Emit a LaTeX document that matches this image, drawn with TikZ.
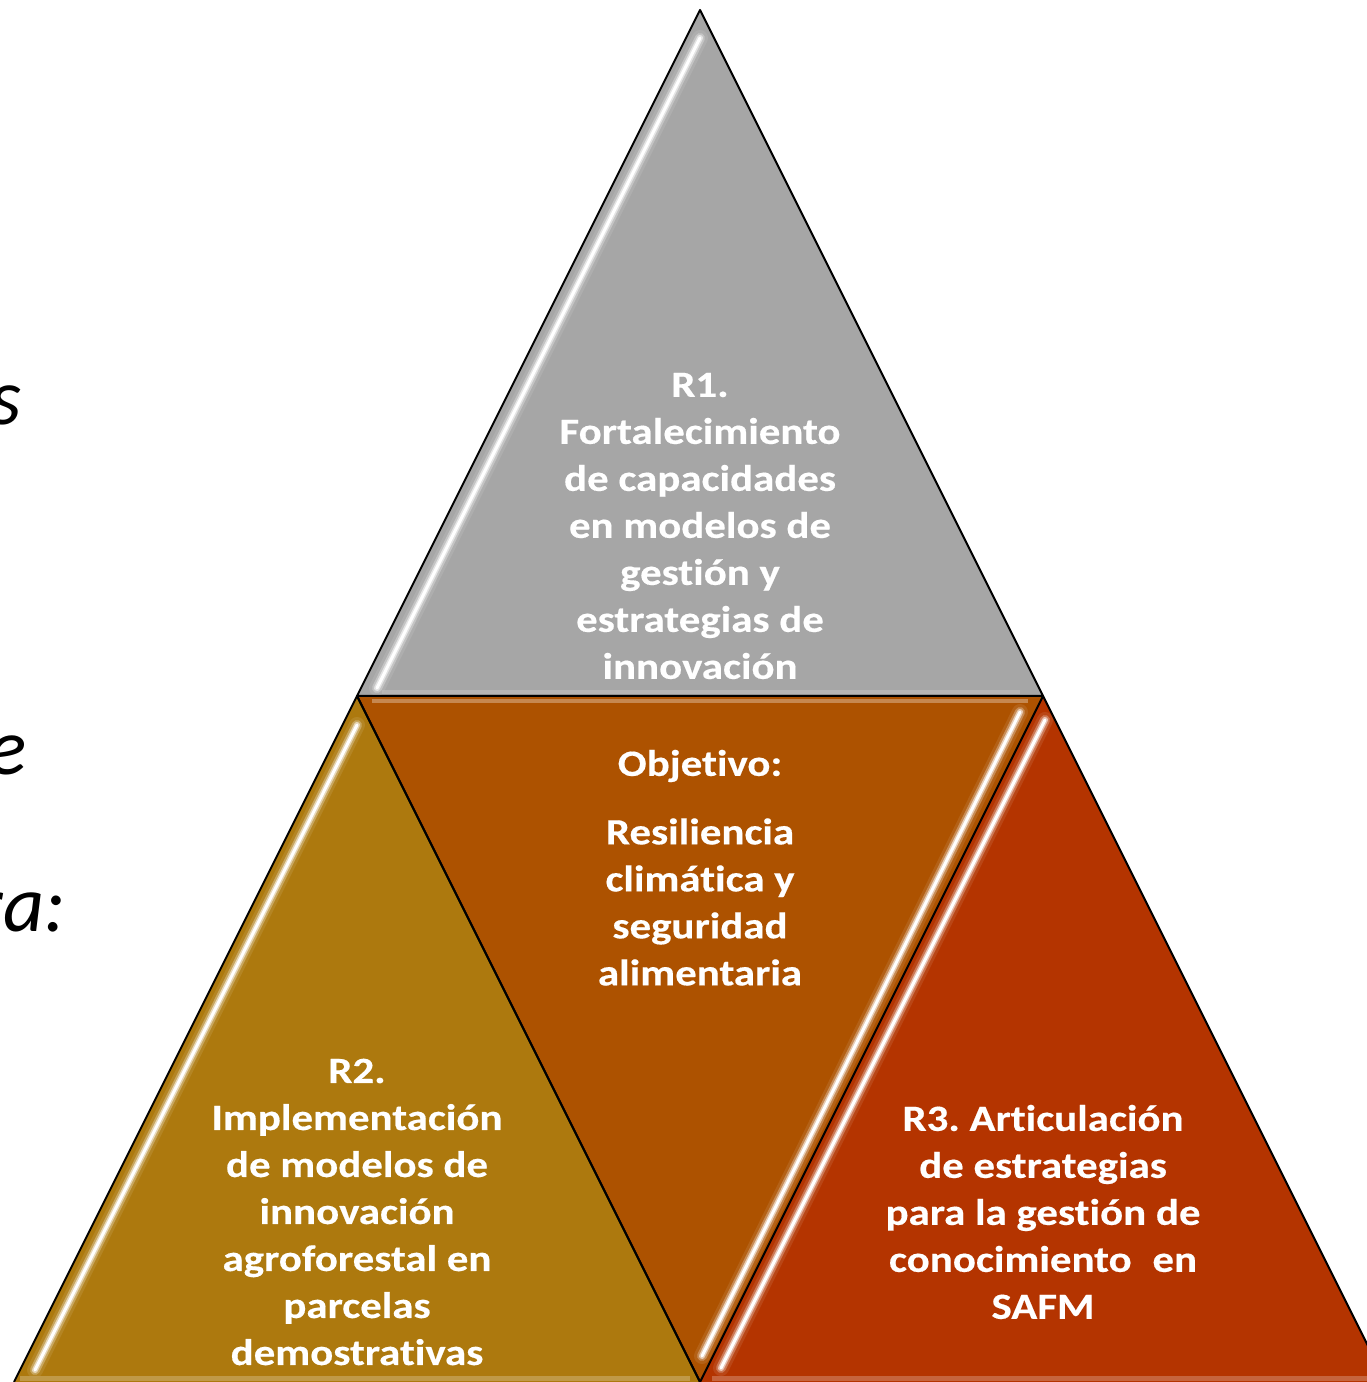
\documentclass[tikz,border=0pt]{standalone}
\usepackage{fontspec}
\setmainfont{Carlito}
\newfontfamily\wfont[FakeStretch=1.16, FakeBold=0.4, Ligatures={NoCommon}, RawFeature={-liga;-clig;-calt;-dlig}]{Carlito}
\newfontfamily\ifont[Ligatures={NoCommon}, RawFeature={-liga;-clig;-calt}]{Carlito}
\frenchspacing
\definecolor{cgray}{RGB}{166,166,166}
\definecolor{corange}{RGB}{173,82,0}
\definecolor{cgold}{RGB}{173,121,14}
\definecolor{cred}{RGB}{180,52,0}
\newcommand{\glowline}[3]{%
  \draw[line width=16pt, line cap=round, #1!70!white, opacity=0.3] #2 -- #3;
  \draw[line width=10pt, line cap=round, #1!45!white, opacity=0.55] #2 -- #3;
  \draw[line width=6pt, line cap=round, #1!20!white, opacity=0.8] #2 -- #3;
  \draw[line width=3pt, line cap=round, white] #2 -- #3;}
\tikzset{
  outline/.style={draw=black, line width=2pt, line join=round},
  wtext/.style={text=white, font=\wfont\bfseries\fontsize{37}{47}\selectfont, align=center, inner sep=0pt},
  ftext/.style={text=black, font=\ifont\itshape\fontsize{80}{90}\selectfont, inner sep=0pt, anchor=base east}
}
\begin{document}
\begin{tikzpicture}[x=1pt,y=1pt]
\useasboundingbox (0,0) rectangle (1367,1382);
\clip (0,0) rectangle (1367,1382);
% vertices
\coordinate (tA) at (700,1372);
\coordinate (tL) at (357,686);
\coordinate (tR) at (1043,686);
\coordinate (mL) at (357,686);
\coordinate (mR) at (1043,686);
\coordinate (mB) at (700,0);
\coordinate (gA) at (357,686);
\coordinate (gL) at (14,0);
\coordinate (gR) at (700,0);
\coordinate (rA) at (1043,686);
\coordinate (rL) at (700,0);
\coordinate (rR) at (1386,0);
% fills
\fill[cgray] (tA) -- (tL) -- (tR) -- cycle;
\fill[corange] (mL) -- (mR) -- (mB) -- cycle;
\fill[cgold] (gA) -- (gL) -- (gR) -- cycle;
\fill[cred] (rA) -- (rL) -- (rR) -- cycle;
% light strips along horizontal edges
\draw[line width=4pt, corange!55!white, opacity=0.7] (372,681) -- (1028,681);
\draw[line width=5pt, cgold!60!white, opacity=0.6] (20,3) -- (690,3);
\draw[line width=5pt, cred!60!white, opacity=0.6] (712,3) -- (1367,3);
\draw[line width=4pt, cgray!70!white, opacity=0.6] (382,690) -- (1020,690);
% highlights
\glowline{cgray}{(700,1344)}{(377,694)}
\glowline{cgold}{(357,657)}{(35,12)}
\glowline{corange}{(1020,670)}{(702,26)}
\glowline{cred}{(1045,662)}{(721,14)}
% outlines
\draw[outline] (tA) -- (tL) -- (tR) -- cycle;
\draw[outline] (mL) -- (mB);
\draw[outline] (gL) -- (gA) -- (gR);
\draw[outline] (rL) -- (rA) -- (rR);
% texts
\node[wtext] (r1) at (700,856) {R1.\\Fortalecimiento\\de capacidades\\en modelos de\\gest\kern0pt ión y\\estrategias de\\innovación};
\node[wtext] (obj) at (700,616) {Objet\kern0pt ivo:};
\node[wtext] (res) at (700,480) {Resiliencia\\climát\kern0pt ica y\\seguridad\\alimentaria};
\node[wtext] (r2) at (357,170) {R2.\\Implementación\\de modelos de\\innovación\\agroforestal en\\parcelas\\demostrat\kern0pt ivas};
\node[wtext] (r3) at (1043,170) {R3. Art\kern0pt iculación\\de estrategias\\para la gest\kern0pt ión de\\conocimiento\hspace{0.3em} en\\SAFM};
% cut-off text at left edge
\node[ftext] (f1) at (22,957) {s};
\node[ftext] (f2) at (27,607) {e};
\node[ftext] (f3) at (66,450) {ra:};
\end{tikzpicture}
\end{document}
